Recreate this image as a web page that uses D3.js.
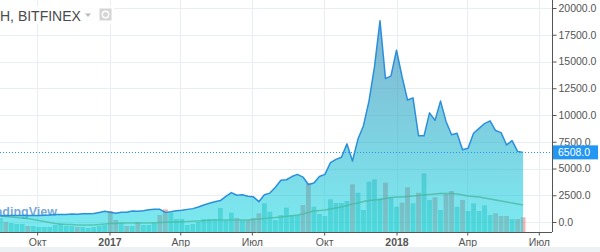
<!DOCTYPE html>
<html><head><meta charset="utf-8">
<script src="https://cdn.jsdelivr.net/npm/d3@7"></script>
<style>
body{margin:0;background:#fff;overflow:hidden;}
svg{display:block;font-family:"Liberation Sans",Arial,sans-serif;}
</style>
</head><body>
<svg id="c" width="600" height="252"></svg>
<script>
// ---- DATA (weekly, BITFINEX) ----
const firstWeek = "2016-08-15";
const closes = [
  580, 575, 605, 608, 608, 600, 612, 617, 640, 655, 700, 705, 705, 740, 735, 765, 775, 790, 895, 1000,
  905, 820, 920, 915, 1020, 1000, 1050, 1150, 1200, 1180, 900, 965, 1050, 1100, 1180, 1250, 1400, 1590,
  1750, 1900, 2000, 2400, 2750, 2500, 2550, 2400, 2350, 1900, 2550, 2700, 3250, 3900, 3950, 4250, 4450,
  4200, 3500, 3650, 4250, 4450, 5550, 5850, 6050, 7300, 5700, 7750, 9000, 11300, 14500, 18800, 13400, 13650,
  16050, 13600, 11400, 11600, 8050, 8050, 10200, 9500, 11300, 9400, 8150, 8300, 6750, 6900, 8300, 8750,
  9200, 9450, 8550, 8350, 7200, 7600, 6600, 6508
];
const volumes = [
  140, 100, 90, 80, 80, 60, 60, 50, 50, 50, 70, 80, 60, 60, 50, 50, 40, 50, 60, 70,
  210, 120, 90, 60, 60, 100, 70, 70, 90, 170, 227, 190, 130, 130, 70, 80, 100, 130,
  130, 130, 240, 120, 193, 140, 120, 120, 140, 187, 287, 203, 120, 170, 243, 170, 170,
  270, 487, 253, 180, 160, 327, 290, 290, 310, 477, 393, 220, 503, 527, 337, 493, 347,
  253, 293, 447, 287, 393, 587, 320, 347, 220, 380, 410, 253, 320, 210, 287, 210,
  267, 170, 187, 160, 160, 130, 130, 147
];
const volumeMA = [
  160, 155, 150, 145, 140, 135, 125, 115, 105, 95, 85, 80, 75, 75, 70, 70, 70, 70, 75, 80,
  85, 85, 90, 90, 90, 90, 90, 90, 92, 95, 97, 100, 100, 102, 105, 107, 110, 113,
  117, 120, 120, 120, 120, 120, 120, 120, 125, 130, 135, 140, 145, 150, 157, 163, 170,
  180, 195, 210, 215, 220, 230, 240, 250, 265, 280, 290, 305, 315, 320, 325, 335, 345,
  350, 350, 355, 360, 365, 370, 375, 380, 385, 385, 385, 380, 370, 360, 355, 350,
  340, 330, 320, 310, 300, 290, 280, 270
];
const priceTicks = [0, 2500, 5000, 7500, 10000, 12500, 15000, 17500, 20000];
const timeTicks = [
  {d:"2016-10-01", label:"Окт", bold:false},
  {d:"2017-01-01", label:"2017", bold:true},
  {d:"2017-04-01", label:"Апр", bold:false},
  {d:"2017-07-01", label:"Июл", bold:false},
  {d:"2017-10-01", label:"Окт", bold:false},
  {d:"2018-01-01", label:"2018", bold:true},
  {d:"2018-04-01", label:"Апр", bold:false},
  {d:"2018-07-01", label:"Июл", bold:false}
];
const lastPrice = 6508.0;
const titleText = "Н, BITFINEX";

// ---- SETUP ----
const svg = d3.select("#c");
const W = 600, H = 252;
const plotRight = 552, plotBottom = 232;
const parse = d3.utcParse("%Y-%m-%d");
const t0 = parse(firstWeek);
const data = closes.map((c, i) => ({
  date: d3.utcDay.offset(t0, 7 * i),
  close: c,
  vol: volumes[i],
  ma: volumeMA[i],
  up: i === 0 ? true : c >= closes[i - 1]
}));

const x = d3.scaleUtc()
  .domain([parse("2017-01-01"), parse("2018-01-01")])
  .range([109.5, 396.5]);
const y = d3.scaleLinear().domain([0, 20000]).range([222, 8]);
const yv = d3.scaleLinear().domain([0, 1000]).range([plotBottom, plotBottom - 100]);

svg.append("rect").attr("width", W).attr("height", H).attr("fill", "#fff");

const defs = svg.append("defs");
defs.append("clipPath").attr("id", "plotClip")
  .append("rect").attr("x", 0).attr("y", 0).attr("width", plotRight).attr("height", plotBottom);
const grad = defs.append("linearGradient").attr("id", "areaGrad")
  .attr("gradientUnits", "userSpaceOnUse")
  .attr("x1", 0).attr("x2", 0).attr("y1", y(20000)).attr("y2", plotBottom);
grad.append("stop").attr("offset", 0).attr("stop-color", "rgb(40,120,170)").attr("stop-opacity", 0.58);
grad.append("stop").attr("offset", 0.55).attr("stop-color", "rgb(20,170,200)").attr("stop-opacity", 0.55);
grad.append("stop").attr("offset", 1).attr("stop-color", "rgb(0,215,225)").attr("stop-opacity", 0.52);

// grid
const grid = svg.append("g");
grid.selectAll("line.h").data(priceTicks).join("line")
  .attr("x1", 0).attr("x2", plotRight)
  .attr("y1", d => Math.round(y(d)) + 0.5).attr("y2", d => Math.round(y(d)) + 0.5)
  .attr("stroke", "#e9eef2").attr("stroke-width", 1);
grid.selectAll("line.v").data(timeTicks).join("line")
  .attr("x1", d => Math.round(x(parse(d.d))) + 0.5).attr("x2", d => Math.round(x(parse(d.d))) + 0.5)
  .attr("y1", 0).attr("y2", plotBottom)
  .attr("stroke", "#e9eef2").attr("stroke-width", 1);

const plot = svg.append("g").attr("clip-path", "url(#plotClip)");

// watermark (partly outside the visible area, as in the original screenshot)
plot.append("text")
  .attr("x", 57).attr("y", 215.5)
  .attr("text-anchor", "end")
  .attr("font-size", 12.5).attr("font-weight", "bold")
  .attr("fill", "rgba(70,140,205,0.75)")
  .text("TradingView");

// volume bars
const bw = 4.8;
plot.selectAll("rect.vol").data(data).join("rect")
  .attr("x", d => x(d.date) - bw / 2)
  .attr("width", bw)
  .attr("y", d => yv(d.vol))
  .attr("height", d => plotBottom - yv(d.vol))
  .attr("fill", d => d.up ? "rgba(38,166,154,0.42)" : "rgba(239,83,80,0.45)");

// volume MA
plot.append("path").datum(data)
  .attr("d", d3.line().x(d => x(d.date)).y(d => yv(d.ma)))
  .attr("fill", "none")
  .attr("stroke", "rgba(150,160,90,0.75)")
  .attr("stroke-width", 1.4);

// area
plot.append("path").datum(data)
  .attr("d", d3.area().x(d => x(d.date)).y0(plotBottom).y1(d => y(d.close)))
  .attr("fill", "url(#areaGrad)");
plot.append("path").datum(data)
  .attr("d", d3.line().x(d => x(d.date)).y(d => y(d.close)))
  .attr("fill", "none")
  .attr("stroke", "#2b8fdc")
  .attr("stroke-width", 1.5)
  .attr("stroke-linejoin", "round");

// last price dotted line
svg.append("line")
  .attr("x1", 0).attr("x2", plotRight)
  .attr("y1", Math.round(y(lastPrice)) + 0.5).attr("y2", Math.round(y(lastPrice)) + 0.5)
  .attr("stroke", "#2196f3").attr("stroke-width", 1)
  .attr("stroke-dasharray", "1,2");

// right axis
const yAxis = d3.axisRight(y).tickValues(priceTicks).tickSize(4).tickFormat(d3.format(".1f"));
const ya = svg.append("g").attr("transform", `translate(${plotRight + 0.5},0)`).call(yAxis);
ya.select(".domain").attr("d", `M0,0V${plotBottom}`).attr("stroke", "#555");
ya.selectAll(".tick line").attr("stroke", "#555");
ya.selectAll(".tick text").attr("x", 6).attr("fill", "#555").attr("font-size", 10.5)
  .attr("font-family", "Liberation Sans, Arial, sans-serif");

// last price label
const ly = y(lastPrice);
svg.append("rect").attr("x", plotRight + 1).attr("y", ly - 7).attr("width", 45).attr("height", 14)
  .attr("fill", "#2196f3");
svg.append("text").attr("x", plotRight + 6).attr("y", ly + 4)
  .attr("fill", "#fff").attr("font-size", 10.5).text(d3.format(".1f")(lastPrice));

// bottom axis
const xAxis = d3.axisBottom(x).tickValues(timeTicks.map(t => parse(t.d))).tickSize(3)
  .tickFormat((d, i) => timeTicks[i].label);
const xa = svg.append("g").attr("transform", `translate(0,${plotBottom + 0.5})`).call(xAxis);
xa.select(".domain").attr("d", `M0,0H${plotRight}`).attr("stroke", "#555");
xa.selectAll(".tick line").attr("stroke", "#555");
xa.selectAll(".tick text").attr("y", 6).attr("fill", "#555").attr("font-size", 10.5)
  .attr("font-family", "Liberation Sans, Arial, sans-serif")
  .attr("font-weight", (d, i) => timeTicks[i].bold ? "bold" : "normal");

svg.append("rect").attr("x", 0).attr("y", 247).attr("width", W).attr("height", 5).attr("fill", "#eef1f3");

// title
svg.append("rect").attr("x", 0).attr("y", 6).attr("width", 114).attr("height", 18).attr("fill", "rgba(255,255,255,0.85)");
svg.append("text").attr("x", 0).attr("y", 20.5).attr("font-size", 14).attr("fill", "#4a4a4a").text(titleText);
svg.append("path").attr("d", "M85,13.5h6l-3,3.5z").attr("fill", "#bbb");
svg.append("rect").attr("x", 99.5).attr("y", 8.5).attr("width", 12).attr("height", 12).attr("fill", "#d5d5d5");
svg.append("circle").attr("cx", 105.5).attr("cy", 14.5).attr("r", 3.2).attr("fill", "none").attr("stroke", "#fff").attr("stroke-width", 1.4);
</script>
</body></html>
